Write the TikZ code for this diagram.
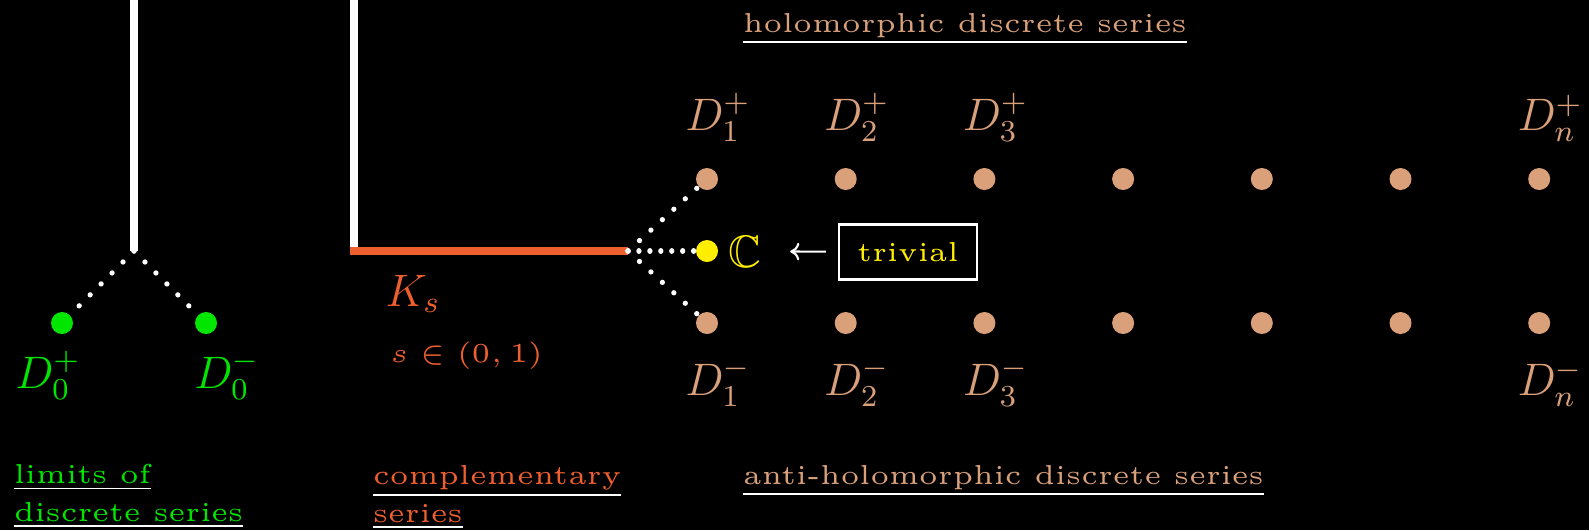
\documentclass[tikz,border=0pt]{standalone}
\usepackage{xcolor}
\usepackage{amsmath}
\usepackage{amssymb}
\usepackage{tikz}
\usetikzlibrary{arrows.meta,calc}
\definecolor{yesil}{HTML}{00E600}
\definecolor{turuncu}{HTML}{EE5F2F}
\definecolor{kahve}{HTML}{D9A07A}
\definecolor{sari}{HTML}{FFEE00}
\tikzset{
  nokta/.style={circle,fill=#1,inner sep=0pt,minimum size=0.22cm},
  nokta/.default=kahve,
  noktali/.style={white,line width=1.5pt,line cap=round,dash pattern=on 0.01pt off #1},
  noktali/.default=3.1pt,
  yazi/.style={font=\fontsize{5}{6.8}\selectfont,scale=1.56,inner sep=0pt,align=left},
  etiket/.style={font=\large,scale=1.08,inner sep=0pt,anchor=base},
}

\begin{document}
\begin{tikzpicture}[scale=1.0]
\fill[black] (0,0) rectangle (15.89,5.30);
\useasboundingbox (0,0) rectangle (15.89,5.30);
% limits of discrete series
\coordinate (ust1) at (1.34,5.30);
\coordinate (catal1) at (1.34,2.79);
\draw[white,line width=2pt] (ust1) -- (catal1);
\node[nokta=yesil] (dp0) at (0.62,2.07) {};
\node[nokta=yesil] (dm0) at (2.06,2.07) {};
\draw[noktali=4.4pt] (catal1) -- (dp0);
\draw[noktali=4.4pt] (catal1) -- (dm0);
\node[etiket,yesil] (Dp0) at (0.48,1.42) {$D_0^+$};
\node[etiket,yesil] (Dm0) at (2.27,1.42) {$D_0^-$};
\node[yazi,text=white,anchor=base west] (sinir) at (0.13,0.09)
  {\underline{\textcolor{yesil}{limits of}}\\\underline{\textcolor{yesil}{discrete series}}};
% complementary series
\coordinate (ust2) at (3.54,5.30);
\coordinate (kose) at (3.54,2.79);
\coordinate (catal2) at (6.28,2.79);
\draw[white,line width=2pt] (ust2) -- (kose);
\draw[turuncu,line width=2.2pt] ([xshift=-1pt]kose) -- (catal2);
\node[etiket,turuncu] (Ks) at (4.13,2.24) {$K_s$};
\node[yazi,turuncu,anchor=base west] (aralik) at (3.89,1.68) {$s\in(0,1)$};
\node[yazi,text=white,anchor=base west] (tamam) at (3.72,0.08)
  {\underline{\textcolor{turuncu}{complementary}}\\\underline{\textcolor{turuncu}{series}}};
% discrete series
\foreach \i [evaluate=\i as \x using {7.07+1.387*(\i-1)}] in {1,...,7} {
  \node[nokta] (p\i) at (\x,3.51) {};
  \node[nokta] (q\i) at (\x,2.07) {};
}
\foreach \k/\j in {1/1,2/2,3/3,n/7} {
  \node[etiket,kahve] (Dp\k) at ($(p\j)+(0.11,0.49)$) {$D_\k^+$};
  \node[etiket,kahve] (Dm\k) at ($(q\j)+(0.11,-0.72)$) {$D_\k^-$};
}
\node[yazi,text=white,anchor=base west] (holo) at (7.42,4.98)
  {\underline{\textcolor{kahve}{holomorphic discrete series}}};
\node[yazi,text=white,anchor=base west] (antiholo) at (7.42,0.46)
  {\underline{\textcolor{kahve}{anti-holomorphic discrete series}}};
% trivial
\node[nokta=sari] (bir) at (7.07,2.79) {};
\draw[noktali=4.4pt] (catal2) -- (p1);
\draw[noktali] (catal2) -- (bir);
\draw[noktali=4.4pt] (catal2) -- (q1);
\node[etiket,sari] (cC) at (7.45,2.63) {$\mathbb{C}$};
\node[yazi,sari,draw=white,line width=0.8pt,minimum width=0.885cm,minimum height=0.353cm,align=center] (triv) at (9.08,2.78) {trivial};
\draw[white,line width=0.6pt,-{To[length=2.6pt,width=5pt]},shorten <=0.11cm,shorten >=0.28cm] (triv) -- (cC);
\end{tikzpicture}
\end{document}
